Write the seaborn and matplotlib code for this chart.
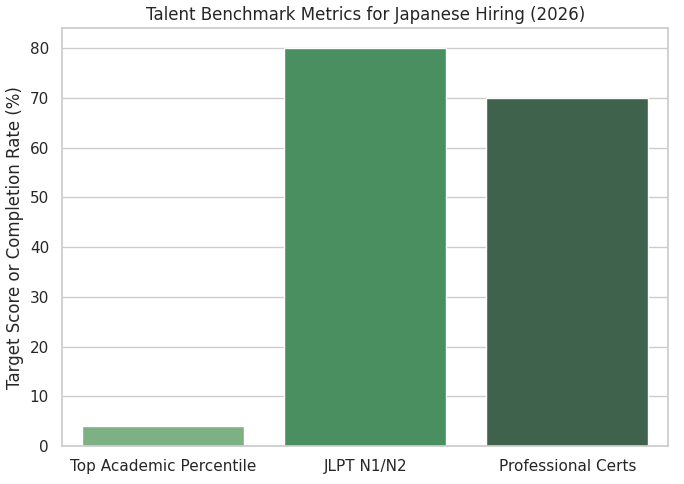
import matplotlib
matplotlib.use('Agg')
import matplotlib.pyplot as plt
import seaborn as sns
import pandas as pd

# Benchmark data
categories = ['Top Academic Percentile', 'JLPT N1/N2', 'Professional Certs']
values = [4, 80, 70]
bar_colors = ['#74b87c', '#3f9a5a', '#38684a']

sns.set_theme(style='whitegrid')

df = pd.DataFrame({'metric': categories, 'value': values})

fig, ax = plt.subplots(figsize=(6.84, 4.84), dpi=100)
sns.barplot(data=df, x='metric', y='value', hue='metric', palette=bar_colors,
            legend=False, ax=ax)

ax.set_title('Talent Benchmark Metrics for Japanese Hiring (2026)', fontsize=12)
ax.set_xlabel('')
ax.set_ylabel('Target Score or Completion Rate (%)', fontsize=12)
ax.tick_params(labelsize=11)

plt.subplots_adjust(left=0.091, right=0.977, top=0.942, bottom=0.078)
plt.savefig('out.png', dpi=100)
